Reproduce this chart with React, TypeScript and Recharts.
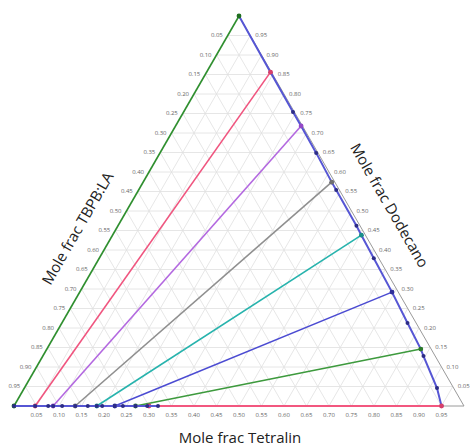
import React from "react";
import {
  ScatterChart,
  Scatter,
  XAxis,
  YAxis,
  ReferenceLine,
} from "recharts";

// ternary data: TBPB:LA (a), Tetralin (b), Dodecano (c)
const tickLabels = [
  "0.05", "0.10", "0.15", "0.20", "0.25", "0.30", "0.35", "0.40", "0.45", "0.50",
  "0.55", "0.60", "0.65", "0.70", "0.75", "0.80", "0.85", "0.90", "0.95",
];

// tie lines: left end on the Tetralin axis, right end on the binodal
const tieLeftTetralin = [0, 0.047, 0.087, 0.136, 0.184, 0.224, 0.27, 0.3];
const tieRightDodecano = [1, 0.856, 0.718, 0.574, 0.438, 0.292, 0.146, 0];
const tieRightTBPB = [0, 0.002, 0.003, 0.007, 0.009, 0.014, 0.023, 0.05];
const tieColors = ["#2f8f2f", "#f0557f", "#b368e0", "#8f8f8f", "#27b3ad", "#4b4bd2", "#3d9a3d", "#f2577f"];
const tieMarkers = ["#1f6f1f", "#d8406a", "#9448c8", "#6f6f6f", "#1a8f8a", "#2f2f9a", "#2a7a2a", "#d8406a"];

// binodal curve
const binodalRightDodecano = [1, 0.856, 0.754, 0.718, 0.649, 0.574, 0.554, 0.462, 0.438, 0.379, 0.292, 0.213, 0.146, 0.128, 0.046, 0];
const binodalRightTBPB = [0, 0.002, 0.003, 0.003, 0.004, 0.007, 0.007, 0.008, 0.009, 0.011, 0.014, 0.019, 0.023, 0.026, 0.037, 0.05];
const binodalBottomTetralin = [0.32, 0.296, 0.27, 0.242, 0.224, 0.196, 0.184, 0.164, 0.136, 0.107, 0.087, 0.076, 0.047, 0];

const SQ = Math.sqrt(3) / 2;
const toXY = (a: number, b: number, c: number) => ({ x: b + c / 2, y: c * SQ });

const tickValues = tickLabels.map((t) => parseFloat(t));

const gridSegments: { p: { x: number; y: number }[] }[] = [];
tickValues.forEach((v) => {
  gridSegments.push({ p: [toXY(1 - v, 0, v), toXY(0, 1 - v, v)] });
  gridSegments.push({ p: [toXY(v, 1 - v, 0), toXY(v, 0, 1 - v)] });
  gridSegments.push({ p: [toXY(1 - v, v, 0), toXY(0, v, 1 - v)] });
});

const leftTicks = tickLabels.map((t, i) => ({ ...toXY(tickValues[i], 0, 1 - tickValues[i]), label: t }));
const rightTicks = tickLabels.map((t, i) => ({ ...toXY(0, 1 - tickValues[i], tickValues[i]), label: t }));
const bottomTicks = tickLabels.map((t, i) => ({ ...toXY(1 - tickValues[i], tickValues[i], 0), label: t }));

const tieLines = tieLeftTetralin.map((b, i) => [
  toXY(1 - b, b, 0),
  toXY(tieRightTBPB[i], 1 - tieRightTBPB[i] - tieRightDodecano[i], tieRightDodecano[i]),
]);

const binodalRight = binodalRightDodecano.map((c, i) =>
  toXY(binodalRightTBPB[i], 1 - binodalRightTBPB[i] - c, c)
);
const binodalBottom = binodalBottomTetralin.map((b) => toXY(1 - b, b, 0));

const dot = (color: string, r = 2.2) => (p: any) =>
  p.cx == null ? <g /> : <circle cx={p.cx} cy={p.cy} r={r} fill={color} />;

const tickText = (anchor: "start" | "end" | "middle", dx: number, dy: number) => (p: any) =>
  (
    <text x={p.cx + dx} y={p.cy + dy} fontSize={6} fill="#666" textAnchor={anchor} dominantBaseline="middle">
      {p.payload.label}
    </text>
  );

const titleStyle: React.CSSProperties = {
  position: "absolute",
  fontSize: 15,
  color: "#222",
  whiteSpace: "nowrap",
  transformOrigin: "center",
};

export default function App() {
  return (
    <div
      style={{
        position: "absolute",
        left: 0,
        top: 0,
        width: 470,
        height: 446,
        background: "#fff",
        fontFamily: "'Open Sans', sans-serif",
      }}
    >
      <ScatterChart width={470} height={446} margin={{ top: 16, right: 6, bottom: 40, left: 14 }}>
        <XAxis type="number" dataKey="x" domain={[0, 1]} hide />
        <YAxis type="number" dataKey="y" domain={[0, SQ]} hide />
        {gridSegments.map((g, i) => (
          <ReferenceLine key={"g" + i} segment={g.p} stroke="#e0e0e0" strokeWidth={0.8} ifOverflow="visible" />
        ))}
        <ReferenceLine segment={[toXY(0, 0, 1), toXY(0, 1, 0)]} stroke="#9a9a9a" strokeWidth={1} ifOverflow="visible" />
        <ReferenceLine segment={[toXY(1, 0, 0), toXY(0, 1, 0)]} stroke="#9a9a9a" strokeWidth={1} ifOverflow="visible" />
        <Scatter
          data={binodalRight}
          line={{ stroke: "#5656d4", strokeWidth: 2 }}
          shape={dot("#2c2c86", 2)}
          isAnimationActive={false}
        />
        {tieLines.map((pts, i) => (
          <Scatter
            key={"t" + i}
            data={pts}
            line={{ stroke: tieColors[i], strokeWidth: i === tieLines.length - 1 ? 2 : 1.6 }}
            shape={dot(tieMarkers[i], 2.4)}
            isAnimationActive={false}
          />
        ))}
        <Scatter
          data={binodalBottom}
          line={{ stroke: "#5656d4", strokeWidth: 2 }}
          shape={dot("#2c2c86", 2)}
          isAnimationActive={false}
        />
        <Scatter data={leftTicks} shape={tickText("end", -5, 0)} isAnimationActive={false} />
        <Scatter data={rightTicks} shape={tickText("start", 5, 0)} isAnimationActive={false} />
        <Scatter data={bottomTicks} shape={tickText("middle", 0, 9)} isAnimationActive={false} />
      </ScatterChart>
      <div style={{ ...titleStyle, left: 77, top: 228, transform: "translate(-50%, -50%) rotate(-60deg)" }}>
        Mole frac TBPB:LA
      </div>
      <div style={{ ...titleStyle, left: 390, top: 205, transform: "translate(-50%, -50%) rotate(60deg)" }}>
        Mole frac Dodecano
      </div>
      <div style={{ ...titleStyle, left: 240, top: 437, transform: "translate(-50%, -50%)" }}>
        Mole frac Tetralin
      </div>
    </div>
  );
}
